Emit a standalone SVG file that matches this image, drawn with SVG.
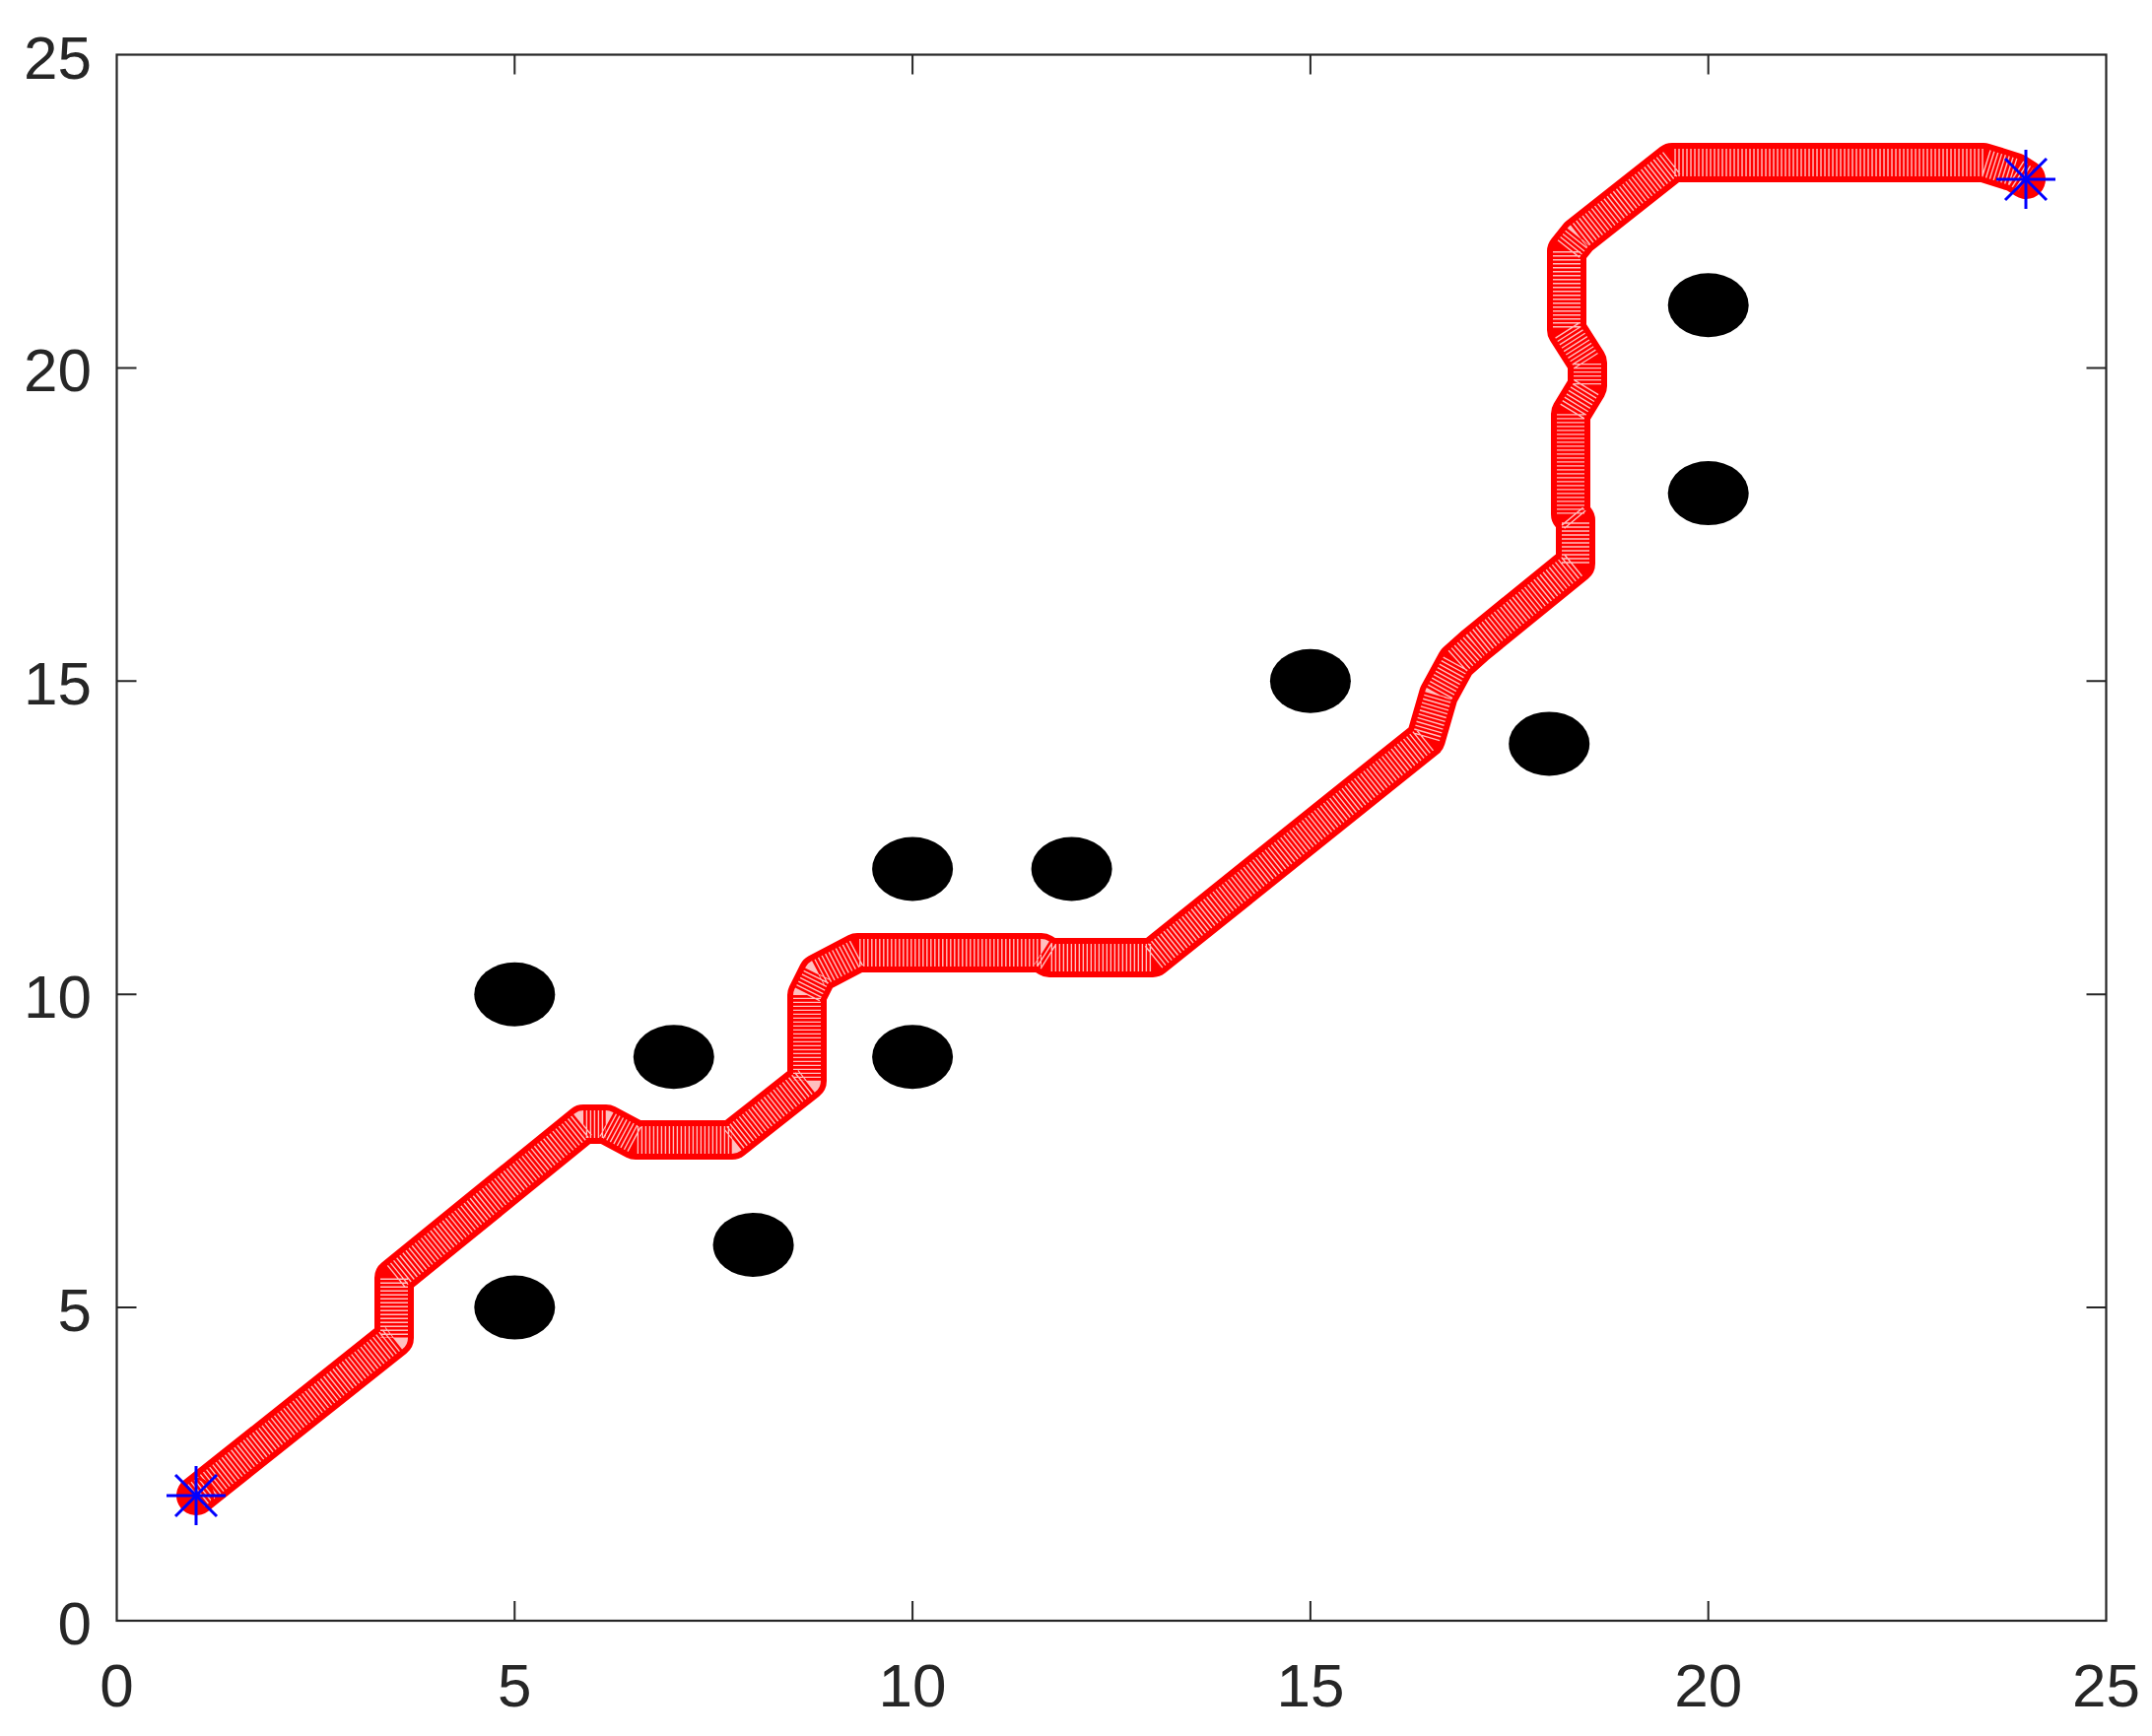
<svg xmlns="http://www.w3.org/2000/svg" width="2184" height="1762" viewBox="0 0 2184 1762">
<style>
.lbl{font-family:"Liberation Sans",Arial,sans-serif;font-size:62px;fill:#262626}
.ax{fill:none;stroke:#262626;stroke-width:2.2}
.tk{stroke:#262626;stroke-width:2}
.obs{fill:#000}
.band{fill:none;stroke:#ff0000;stroke-width:40;stroke-linejoin:round;stroke-linecap:round}
.stripe{fill:none;stroke:#ffffff;stroke-opacity:0.75;stroke-width:28;stroke-linejoin:round;stroke-linecap:butt;stroke-dasharray:1.4 2.6}
.star{stroke:#0000ff;stroke-width:3;fill:none}
</style>
<defs>
<g id="starmk">
<line x1="0" y1="-30" x2="0" y2="30"/>
<line x1="-30" y1="0" x2="30" y2="0"/>
<line x1="-21" y1="-21" x2="21" y2="21"/>
<line x1="-21" y1="21" x2="21" y2="-21"/>
</g>
</defs>
<rect x="0" y="0" width="2184" height="1762" fill="#ffffff"/>
<g id="axes">
<rect class="ax" x="118.5" y="55.5" width="2019" height="1589.5"/>
<g id="ticks">
<path class="tk" d="M522.3,1645v-20M926.1,1645v-20M1329.9,1645v-20M1733.7,1645v-20M522.3,55.5v20M926.1,55.5v20M1329.9,55.5v20M1733.7,55.5v20M118.5,1327.1h20M118.5,1009.2h20M118.5,691.3h20M118.5,373.4h20M2137.5,1327.1h-20M2137.5,1009.2h-20M2137.5,691.3h-20M2137.5,373.4h-20"/>
</g>
<g id="ylabels" text-anchor="end">
<text class="lbl" x="93" y="1669">0</text>
<text class="lbl" x="93" y="1351">5</text>
<text class="lbl" x="93" y="1033">10</text>
<text class="lbl" x="93" y="715">15</text>
<text class="lbl" x="93" y="397">20</text>
<text class="lbl" x="93" y="80">25</text>
</g>
<g id="xlabels" text-anchor="middle">
<text class="lbl" x="118.5" y="1732">0</text>
<text class="lbl" x="522.3" y="1732">5</text>
<text class="lbl" x="926.1" y="1732">10</text>
<text class="lbl" x="1329.9" y="1732">15</text>
<text class="lbl" x="1733.7" y="1732">20</text>
<text class="lbl" x="2137.5" y="1732">25</text>
</g>
</g>
<g id="obstacles">
<ellipse class="obs" cx="522.3" cy="1327.1" rx="41" ry="32.5"/>
<ellipse class="obs" cx="522.3" cy="1009.2" rx="41" ry="32.5"/>
<ellipse class="obs" cx="683.8" cy="1072.8" rx="41" ry="32.5"/>
<ellipse class="obs" cx="764.6" cy="1263.5" rx="41" ry="32.5"/>
<ellipse class="obs" cx="926.1" cy="1072.8" rx="41" ry="32.5"/>
<ellipse class="obs" cx="926.1" cy="882" rx="41" ry="32.5"/>
<ellipse class="obs" cx="1087.6" cy="882" rx="41" ry="32.5"/>
<ellipse class="obs" cx="1329.9" cy="691.3" rx="41" ry="32.5"/>
<ellipse class="obs" cx="1572.2" cy="754.9" rx="41" ry="32.5"/>
<ellipse class="obs" cx="1733.7" cy="500.6" rx="41" ry="32.5"/>
<ellipse class="obs" cx="1733.7" cy="309.8" rx="41" ry="32.5"/>
</g>
<g id="path">
<path id="route" class="band" d="M199,1518 L400,1358 L400,1297 L592,1141 L615,1141 L645,1157 L743,1157 L819,1097 L819,1010 L830,988 L870,967 L1057,967 L1065,972 L1170,972 L1447,750 L1460,705 L1478,672 L1497,655 L1599,572 L1599,528 L1594,522 L1594,420 L1611,392 L1611,368 L1590,335 L1590,255 L1602,240 L1697,165 L2013,165 L2045,175 L2056,182"/>
<path class="stripe" d="M199,1518 L400,1358 L400,1297 L592,1141 L615,1141 L645,1157 L743,1157 L819,1097 L819,1010 L830,988 L870,967 L1057,967 L1065,972 L1170,972 L1447,750 L1460,705 L1478,672 L1497,655 L1599,572 L1599,528 L1594,522 L1594,420 L1611,392 L1611,368 L1590,335 L1590,255 L1602,240 L1697,165 L2013,165 L2045,175 L2056,182"/>
<circle cx="199" cy="1518" r="17" fill="none" stroke="#ff0000" stroke-width="2.5"/>
</g>
<g id="start" class="star"><use href="#starmk" x="199" y="1518"/></g>
<g id="goal" class="star"><use href="#starmk" x="2056" y="182"/></g>
</svg>
